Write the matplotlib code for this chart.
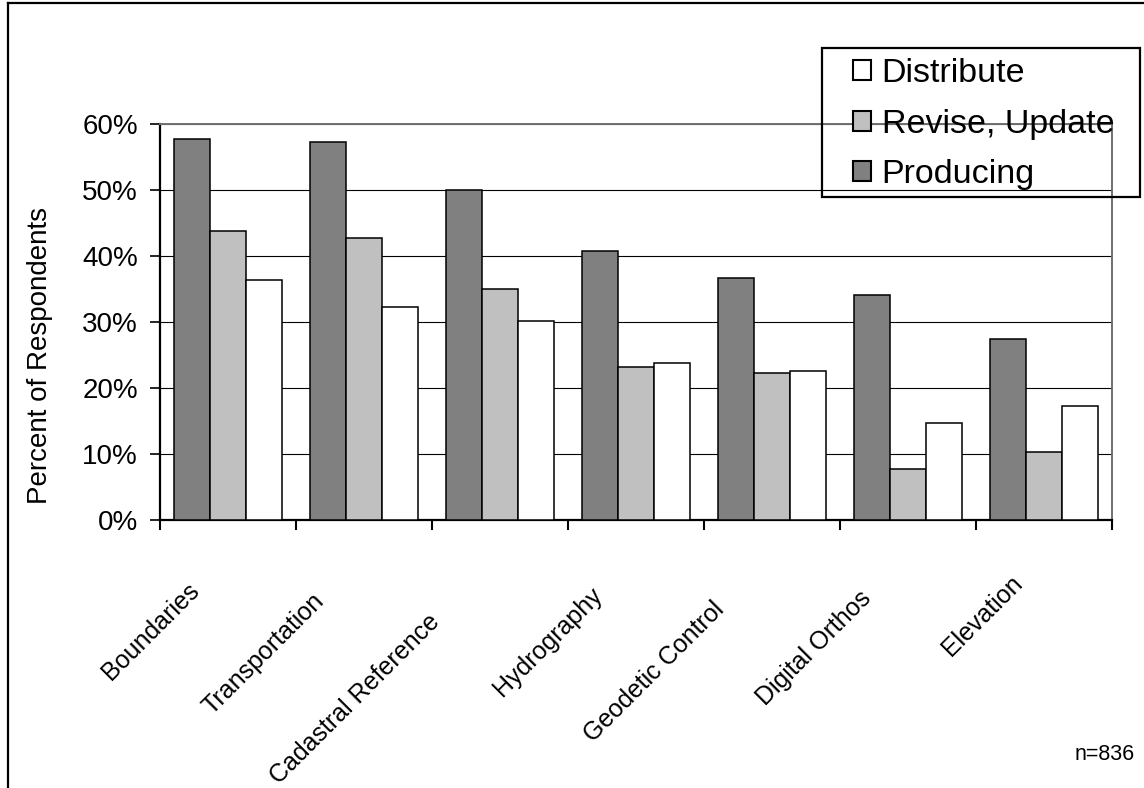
import numpy as np
import matplotlib
matplotlib.use('Agg')
import matplotlib.pyplot as plt
from matplotlib.patches import Rectangle, Patch
from matplotlib.lines import Line2D
from matplotlib.ticker import FuncFormatter, FixedLocator
from matplotlib.transforms import ScaledTranslation

plt.rcParams['font.family'] = ['Liberation Sans', 'DejaVu Sans']

categories = ['Boundaries', 'Transportation', 'Cadastral Reference', 'Hydrography',
              'Geodetic Control', 'Digital Orthos', 'Elevation']
producing = [57.8, 57.2, 50.0, 40.8, 36.6, 34.1, 27.5]
revise = [43.8, 42.7, 35.0, 23.2, 22.3, 7.8, 10.3]
distribute = [36.3, 32.3, 30.2, 23.8, 22.6, 14.7, 17.2]
series_names = ['Producing', 'Revise, Update', 'Distribute']
series_colors = ['#808080', '#c0c0c0', '#ffffff']
yticks = [0, 10, 20, 30, 40, 50, 60]

W, H = 1144, 788
DPI = 100
fig = plt.figure(figsize=(W / DPI, H / DPI), dpi=DPI)
ax = fig.add_axes([160 / W, 1 - 520 / H, (1112 - 160) / W, (520 - 124) / H])

x = np.arange(len(categories))
bw = 0.8 / 3
for i, (vals, name, col) in enumerate(zip([producing, revise, distribute],
                                          series_names, series_colors)):
    ax.bar(x + (i - 1) * bw, vals, width=bw, color=col, edgecolor='black',
           linewidth=1.1, label=name, zorder=3)

ax.set_xlim(-0.5, len(categories) - 0.5)
ax.set_ylim(0, 60)
ax.yaxis.set_major_locator(FixedLocator(yticks))
ax.yaxis.set_major_formatter(FuncFormatter(lambda v, p: f'{v:.0f}%'))
ax.grid(axis='y', color='black', linewidth=0.8, zorder=0)
ax.set_axisbelow(True)

# category boundaries carry the ticks; names are placed separately
ax.set_xticks(np.arange(len(categories) + 1) - 0.5)
ax.set_xticklabels([])
ax.tick_params(axis='x', length=7, width=1.5, direction='out')
ax.tick_params(axis='y', length=7, width=1.2, direction='out', labelsize=20, pad=9)

for s in ['left', 'bottom']:
    ax.spines[s].set_linewidth(1.6)
    ax.spines[s].set_color('black')
for s in ['top', 'right']:
    ax.spines[s].set_linewidth(1.4)
    ax.spines[s].set_color('#707070')

# rotated category names: longer names slide further down-left
renderer = fig.canvas.get_renderer()
for xi, name in zip(x, categories):
    t = ax.text(xi, 0, name, transform=ax.get_xaxis_transform(),
                rotation=0, ha='right', va='top', fontsize=18)
    L = t.get_window_extent(renderer).width
    shift = 0.43 * L * 0.707
    dx = (-3 - shift) / DPI
    dy = -(20 + shift) / DPI
    t.set_transform(ax.get_xaxis_transform()
                    + ScaledTranslation(dx, dy, fig.dpi_scale_trans))
    t.set_rotation(45)
    t.set_rotation_mode('anchor')

fig.text(40 / W, 1 - 355 / H, 'Percent of Respondents', rotation=90,
         ha='center', va='center', fontsize=20)
fig.text(1135 / W, 1 - 755 / H, 'n=836', ha='right', va='center', fontsize=15.5)

# legend lists the series in reverse order
handles = [Patch(facecolor=c, edgecolor='black', linewidth=1.5) for c in series_colors][::-1]
fig.legend(handles, series_names[::-1], loc='upper left',
           bbox_to_anchor=(853 / W, 1 - 58 / H), frameon=False, fontsize=24.5,
           borderpad=0, borderaxespad=0, handlelength=0.52, handleheight=0.52,
           handletextpad=0.32, labelspacing=0.58)
fig.add_artist(Rectangle((822 / W, 1 - 197 / H), (1140 - 822) / W, (197 - 48) / H,
                         transform=fig.transFigure, fill=False, edgecolor='black',
                         linewidth=1.6))

# outer chart border (left and top edges)
fig.add_artist(Line2D([8 / W, 8 / W], [0, 1 - 3 / H], transform=fig.transFigure,
                      color='black', linewidth=1.6))
fig.add_artist(Line2D([8 / W, 1], [1 - 3 / H, 1 - 3 / H], transform=fig.transFigure,
                      color='black', linewidth=1.6))

fig.savefig('out.png', dpi=DPI)
